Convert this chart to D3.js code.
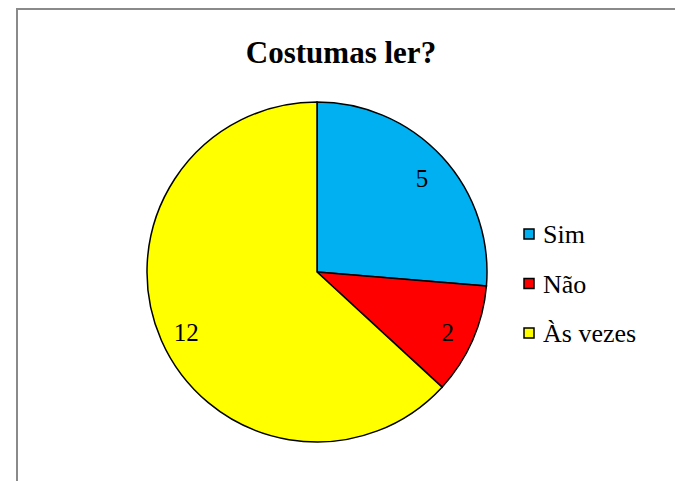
<!DOCTYPE html>
<html>
  <head>
    <meta charset="utf-8" />
    <script src="https://d3js.org/d3.v7.min.js"></script>
    <title>Costumas ler?</title>
    <style>
      body { margin: 0; background: white; }
      svg { display: block; }
    </style>
  </head>
  <body>
    <div id="svg"></div>
    <script>
      // data
      const categories = ["Sim", "Não", "Às vezes"];
      const values = [5, 2, 12];
      const colors = ["#00B0F0", "#FF0000", "#FFFF00"];

      const width = 675, height = 481;
      const cx = 317, cy = 272, radius = 170;
      const serif = "'Liberation Serif', 'Times New Roman', Times, 'DejaVu Serif', serif";

      const svg = d3.select("#svg")
        .append("svg")
        .attr("width", width)
        .attr("height", height)
        .style("font-family", serif);

      // chart area border (runs off the right/bottom edge)
      svg.append("rect")
        .attr("x", 17)
        .attr("y", 9)
        .attr("width", 720)
        .attr("height", 520)
        .style("fill", "white")
        .style("stroke", "#8a8a8a")
        .style("stroke-width", 2);

      svg.append("text")
        .text("Costumas ler?")
        .attr("x", 341)
        .attr("y", 63)
        .attr("text-anchor", "middle")
        .style("font-family", serif)
        .style("font-size", "31px")
        .style("font-weight", "bold");

      const slices = categories.map((c, i) => ({ name: c, value: values[i], color: colors[i] }));

      const pie = d3.pie().sort(null).value((d) => d.value);
      const arc = d3.arc().innerRadius(0).outerRadius(radius);
      const labelArc = d3.arc().innerRadius(radius * 0.84).outerRadius(radius * 0.84);

      const g = svg.append("g").attr("transform", `translate(${cx},${cy})`);

      g.selectAll("path")
        .data(pie(slices))
        .enter()
        .append("path")
        .attr("d", arc)
        .style("fill", (d) => d.data.color)
        .style("stroke", "black")
        .style("stroke-width", 1.5);

      g.selectAll(".lbl")
        .data(pie(slices))
        .enter()
        .append("text")
        .attr("class", "lbl")
        .attr("transform", (d) => `translate(${labelArc.centroid(d)})`)
        .attr("text-anchor", "middle")
        .attr("dy", "0.45em")
        .style("font-family", serif)
        .style("font-size", "25px")
        .text((d) => d.data.value);

      // legend
      const legend = svg.append("g").attr("transform", "translate(524,229)");
      const item = legend.selectAll("g")
        .data(slices)
        .enter()
        .append("g")
        .attr("transform", (d, i) => `translate(0,${i * 49.5})`);

      item.append("rect")
        .attr("width", 10)
        .attr("height", 10)
        .style("fill", (d) => d.color)
        .style("stroke", "black")
        .style("stroke-width", 1.5);

      item.append("text")
        .attr("x", 19)
        .attr("y", 14)
        .style("font-family", serif)
        .style("font-size", "26px")
        .text((d) => d.name);
    </script>
  </body>
</html>
